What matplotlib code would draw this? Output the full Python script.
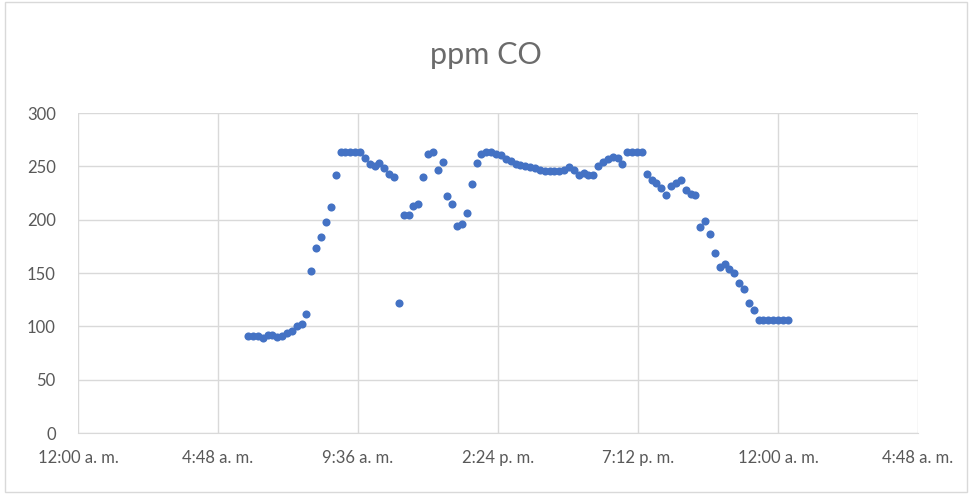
import matplotlib.pyplot as plt
from matplotlib.patches import Rectangle

# Lecturas de CO (ppm), una cada 10 minutos desde las 5:50 a. m.
inicio_h = 5 + 50 / 60
paso_min = 10
ppm = [
    91, 91, 91, 89, 92, 92, 90, 91, 94, 96, 100, 102, 112, 152, 173, 184,
    198, 212, 242, 263, 263, 263, 263, 263, 258, 252, 250, 253, 248, 243,
    240, 122, 204, 204, 213, 215, 240, 262, 263, 247, 254, 222, 215, 194,
    196, 206, 233, 253, 262,
    263, 263, 262, 261, 257, 255, 252, 251, 250, 249, 248, 247, 246, 246,
    246, 246, 247, 249, 247, 242, 244, 242, 242, 250, 254, 257, 259, 258,
    252, 263, 263, 263, 263,
    243, 237, 234, 230, 223, 232, 234, 237, 228, 224, 223, 193, 199, 187,
    169, 156, 158, 154, 150, 141, 135, 122, 115, 106, 106, 106, 106, 106,
    106, 106,
]
horas = [inicio_h + i * paso_min / 60 for i in range(len(ppm))]

ticks_h = [0, 4.8, 9.6, 14.4, 19.2, 24, 28.8]
ticks_lbl = ["12:00 a. m.", "4:48 a. m.", "9:36 a. m.", "2:24 p. m.",
             "7:12 p. m.", "12:00 a. m.", "4:48 a. m."]

plt.rcParams['font.family'] = ['Lato', 'DejaVu Sans']
gris = '#595959'

fig = plt.figure(figsize=(9.72, 4.97), dpi=100)
fig.patch.set_facecolor('white')
fig.patches.append(Rectangle((0.005, 0.01), 0.99, 0.985, transform=fig.transFigure,
                             fill=False, edgecolor='#D9D9D9', linewidth=1))

ax = fig.add_axes([78 / 972, 1 - 433 / 497, 840 / 972, 320 / 497])
ax.scatter(horas, ppm, s=34, color='#4472C4', zorder=3, linewidths=0)

ax.set_xlim(0, 28.8)
ax.set_ylim(0, 300)
ax.set_xticks(ticks_h)
ax.set_xticklabels(ticks_lbl)
ax.set_yticks(range(0, 301, 50))
ax.grid(True, color='#D9D9D9', linewidth=1)
ax.set_axisbelow(True)
for s in ['top', 'right', 'left']:
    ax.spines[s].set_visible(False)
ax.spines['bottom'].set_color('#D9D9D9')
ax.tick_params(length=0, colors=gris, labelsize=12, pad=12)
ax.tick_params(axis='y', pad=16)

fig.text(0.5, 1 - 55 / 497, "ppm CO", ha='center', va='center',
         fontsize=22, color='#6b6b6b')

fig.savefig('out.png', dpi=100)
